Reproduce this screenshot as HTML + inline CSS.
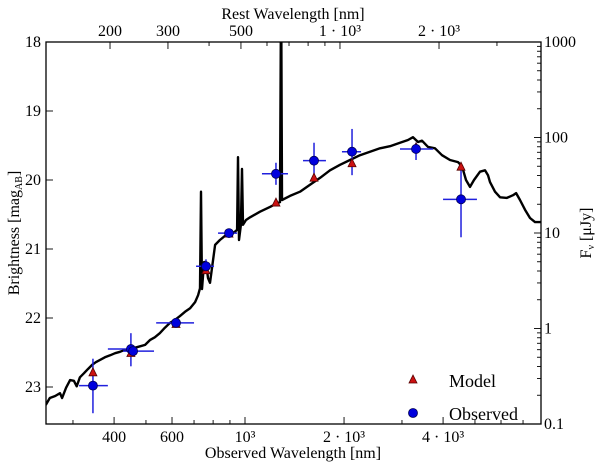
<!DOCTYPE html>
<html><head><meta charset="utf-8">
<style>
html,body{margin:0;padding:0;background:#fff;}
svg{display:block;font-family:"Liberation Serif",serif;}
</style></head>
<body>
<svg id="chart" width="600" height="463" viewBox="0 0 600 463" xmlns="http://www.w3.org/2000/svg">
<defs><clipPath id="plotclip"><rect x="46" y="42" width="495" height="382"/></clipPath></defs>
<rect x="0" y="0" width="600" height="463" fill="#fff"/>
<g id="spec" clip-path="url(#plotclip)"></g>
<g id="marks"></g>
<g id="axes"></g>
<text x="293" y="19" font-size="16" text-anchor="middle">Rest Wavelength [nm]</text>
<text x="293" y="458" font-size="16" text-anchor="middle">Observed Wavelength [nm]</text>
<text transform="translate(19,233) rotate(-90)" font-size="16" text-anchor="middle">Brightness [mag<tspan font-size="10" dy="3">AB</tspan><tspan dy="-3">]</tspan></text>
<text transform="translate(591,233) rotate(-90)" font-size="16" text-anchor="middle">F<tspan font-size="10" dy="3">ν</tspan><tspan dy="-3"> [μJy]</tspan></text>
<g>
<polygon points="413,375 409,383 417,383" fill="#cc1111" stroke="#550000" stroke-width="0.8"/>
<text x="449" y="387" font-size="18">Model</text>
<circle cx="413" cy="413" r="4.5" fill="#0000dd" stroke="#000055" stroke-width="0.8"/>
<text x="449" y="420" font-size="18">Observed</text>
</g>
</svg>
<script>
// Observed photometry
const obsWave = [345, 450, 457, 617, 761, 894, 1242, 1621, 2115, 3310, 4535];
const obsMag  = [22.98, 22.45, 22.48, 22.07, 21.25, 20.77, 19.91, 19.72, 19.59, 19.55, 20.28];
const obsWaveLo = [313, 383, 426, 537, 710, 828, 1126, 1501, 1971, 2959, 3999];
const obsWaveHi = [383, 470, 529, 700, 805, 946, 1351, 1762, 2253, 3728, 5070];
const obsMagLo = [22.59, 22.22, 22.43, 22.02, 21.15, 20.72, 19.75, 19.46, 19.26, 19.46, 19.78];
const obsMagHi = [23.38, 22.70, 22.53, 22.12, 21.35, 20.82, 20.07, 19.96, 19.93, 19.71, 20.83];
// Model photometry
const modelWave = [345, 450, 617, 761, 894, 1242, 1621, 2115, 3310, 4535];
const modelMag  = [22.78, 22.50, 22.08, 21.30, 20.77, 20.32, 19.96, 19.75, 19.52, 19.80];
// Model spectrum
const specWave = [248,255,265,274,278,286,294,302,308,315,324,333,343,352,362,375,389,403,417,432,447,463,480,497,514,532,551,571,592,612,635,657,681,705,720,730,735,740,751,761,772,783,811,839,869,900,932,946,952,959,972,979,986,1007,1036,1111,1191,1260,1278,1287,1296,1370,1470,1576,1690,1813,1944,2085,2236,2399,2572,2758,2958,3130,3241,3357,3451,3600,3780,3970,4200,4440,4567,4697,4830,4967,5180,5364,5478,5556,5754,5960,6252,6527,6666,6854,7098,7350,7611,7940];
const specMag = [23.26,23.16,23.13,23.09,23.16,23.01,22.90,22.91,22.99,22.86,22.80,22.74,22.68,22.64,22.61,22.57,22.54,22.51,22.49,22.46,22.46,22.43,22.41,22.39,22.32,22.28,22.22,22.14,22.07,22.03,21.97,21.91,21.86,21.77,21.67,21.57,20.17,21.58,21.19,21.19,21.42,21.49,20.94,20.87,20.81,20.80,20.75,20.72,19.67,20.87,20.65,19.84,20.65,20.58,20.54,20.46,20.39,20.33,20.32,17.0,20.29,20.23,20.17,20.07,19.97,19.86,19.78,19.71,19.64,19.59,19.54,19.51,19.46,19.42,19.38,19.45,19.43,19.52,19.54,19.64,19.71,19.74,19.80,20.00,20.10,20.00,19.88,19.86,19.93,20.03,20.17,20.25,20.26,20.22,20.19,20.29,20.43,20.55,20.61,20.61];
// Axis ticks
const xTicks = [400, 600, 1000, 2000, 4000];
const xTickLabels = ["400", "600", "10³", "2 · 10³", "4 · 10³"];
const xMinor = [300, 500, 700, 800, 900, 3000, 5000, 6000, 7000];
const topTicks = [200, 300, 500, 1000, 2000];
const topTickLabels = ["200", "300", "500", "1 · 10³", "2 · 10³"];
const topMinor = [400, 600, 700, 800, 900, 3000];
const yTicks = [18, 19, 20, 21, 22, 23];
const fluxTicks = [1000, 100, 10, 1, 0.1];
const fluxTickLabels = ["1000", "100", "10", "1", "0.1"];
const redshift = 0.944;

const L=46,R=541,T=42,B=424;
const xs = w => 245 + 329*Math.log10(w/1000);
const ys = m => T + (m-18)*69;
const yf = f => T + (3-Math.log10(f))*((B-T)/4);
const NS="http://www.w3.org/2000/svg";
function mk(tag, parent, attrs){const e=document.createElementNS(NS,tag);for(const k in attrs)e.setAttribute(k,attrs[k]);parent.appendChild(e);return e;}

const spec=document.getElementById('spec');
const pts=specWave.map((w,i)=>xs(w).toFixed(1)+','+ys(specMag[i]).toFixed(1)).join(' ');
const pl=mk('polyline',spec,{points:pts,fill:'none',stroke:'#000','stroke-width':2.4,'stroke-linejoin':'round'});



const marks=document.getElementById('marks');
obsWave.forEach((w,i)=>{
  const x=xs(w), y=ys(obsMag[i]);
  const g=mk('g',marks,{});
  
  
  mk('line',g,{x1:xs(obsWaveLo[i]),x2:xs(obsWaveHi[i]),y1:y,y2:y,stroke:'#2020dd','stroke-width':1.5});
  mk('line',g,{x1:x,x2:x,y1:ys(obsMagLo[i]),y2:ys(obsMagHi[i]),stroke:'#2020dd','stroke-width':1.5});
});
modelWave.forEach((w,i)=>{
  const x=xs(w), y=ys(modelMag[i]);
  const p=mk('polygon',marks,{points:`${x},${y-4} ${x-4},${y+4} ${x+4},${y+4}`,fill:'#cc1111',stroke:'#550000','stroke-width':0.8});
  
  
});
obsWave.forEach((w,i)=>{
  const c=mk('circle',marks,{cx:xs(w),cy:ys(obsMag[i]),r:4.5,fill:'#0000dd',stroke:'#000055','stroke-width':0.8});
  
  
});

const axes=document.getElementById('axes');
const frame=mk('rect',axes,{x:L,y:T,width:R-L,height:B-T,fill:'none',stroke:'#000','stroke-width':1.3});


function tick(x1,y1,x2,y2){mk('line',axes,{x1,y1,x2,y2,stroke:'#000','stroke-width':0.9});}
function label(x,y,txt,anchor,name){const t=mk('text',axes,{x,y,'font-size':16,'text-anchor':anchor});t.textContent=txt;}
xTicks.forEach((w,i)=>{const x=xs(w);tick(x,B,x,B-7);label(x,B+18,xTickLabels[i],'middle','x-tick-label');});
xMinor.forEach(w=>{const x=xs(w);if(x>L&&x<R)tick(x,B,x,B-4);});
topTicks.forEach((w,i)=>{const x=xs(w*(1+redshift));tick(x,T,x,T+7);label(x,T-6,topTickLabels[i],'middle','top-tick-label');});
topMinor.forEach(w=>{const x=xs(w*(1+redshift));if(x>L&&x<R)tick(x,T,x,T+4);});
yTicks.forEach(m=>{const y=ys(m);tick(L,y,L+7,y);label(L-5,y+5,String(m),'end','y-tick-label');});
fluxTicks.forEach((f,i)=>{const y=yf(f);tick(R,y,R-7,y);label(R+3,y+5,fluxTickLabels[i],'start','right-tick-label');});
for(let d=-1;d<3;d++){for(let k=2;k<10;k++){const y=yf(k*Math.pow(10,d));tick(R,y,R-4,y);}}
</script>
</body></html>
